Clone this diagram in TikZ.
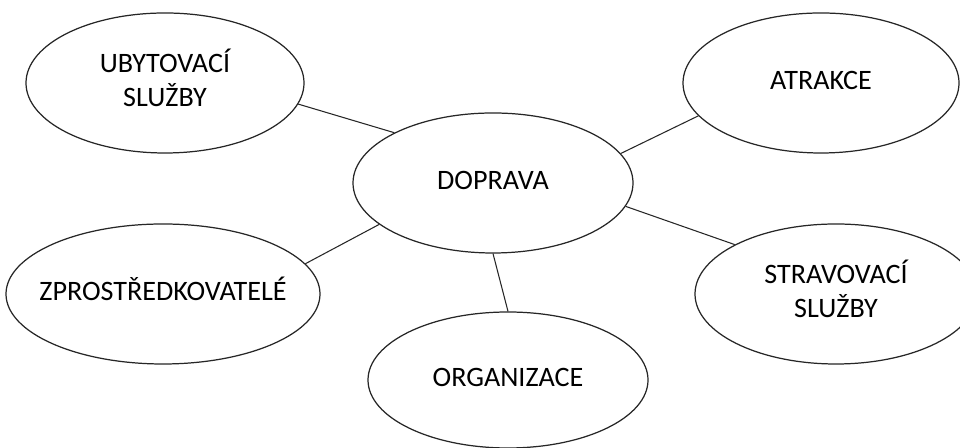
\documentclass[tikz,border=0pt]{standalone}
\usepackage{fontspec}
\setmainfont{Carlito}
\usetikzlibrary{shapes.geometric}

% centred label of zero width, so the oval keeps its own size
\newcommand\ovaltext[1]{\makebox[0pt]{\begin{tabular}{@{}c@{}}#1\end{tabular}}}

\begin{document}
\begin{tikzpicture}[
  oval/.style={ellipse, draw=black!85, line width=0.7pt, fill=white,
    inner sep=0pt, minimum height=2.8cm,
    font=\fontsize{16}{19.5}\selectfont},
  link/.style={draw=black!85, line width=0.6pt}
]
\clip (0,0) rectangle (19.2,8.96);
\fill[white] (0,0) rectangle (19.2,8.96);

\node[oval, minimum width=5.56cm] (uby) at (3.30,7.30) {\ovaltext{UBYTOVACÍ\\SLUŽBY}};
\node[oval, minimum width=5.52cm] (atr) at (16.42,7.30) {\ovaltext{ATRAKCE}};
\node[oval, minimum width=5.60cm] (dop) at (9.86,5.30) {\ovaltext{DOPRAVA}};
\node[oval, minimum width=6.28cm] (zpr) at (3.26,3.08) {\ovaltext{ZPROSTŘEDKOVATELÉ}};
\node[oval, minimum width=5.64cm] (str) at (16.72,3.08) {\ovaltext{STRAVOVACÍ\\SLUŽBY}};
\node[oval, minimum width=5.60cm, minimum height=2.72cm] (org) at (10.16,1.36) {\ovaltext{ORGANIZACE}};

\draw[link] (uby.-9.8) -- (dop.153.9);
\draw[link] (atr.-165.75) -- (dop.13.7);
\draw[link] (dop.-10.5) -- (str.154.8);
\draw[link] (dop.-160.1) -- (zpr.12.3);
\draw[link] (dop.south) -- (org.north);
\end{tikzpicture}
\end{document}
